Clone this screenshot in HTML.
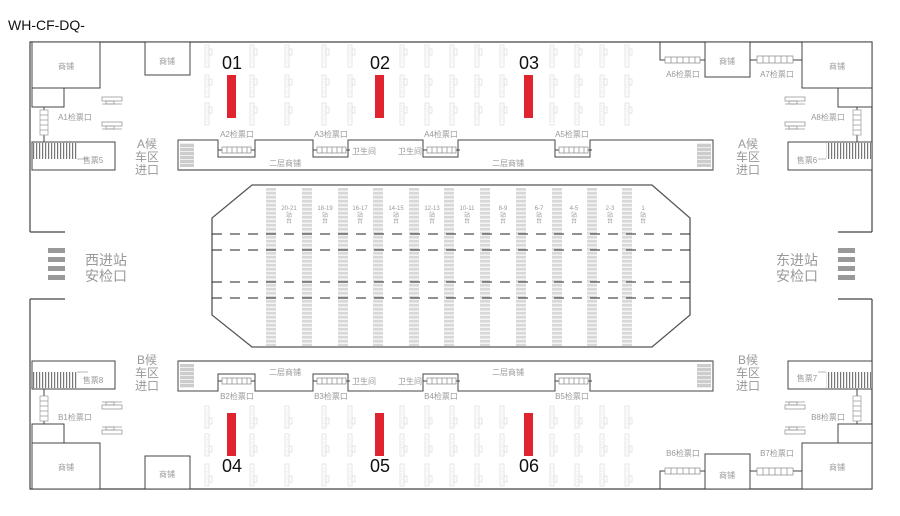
<!DOCTYPE html>
<html><head><meta charset="utf-8"><style>
html,body{margin:0;padding:0;background:#fff;}
svg{display:block;}
text{font-family:"Liberation Sans","Noto Sans CJK SC",sans-serif;fill:#999;}
.s{font-size:8px;}
.m{font-size:12px;}
.n{font-size:18px;}
.n text{fill:#111;}
</style></head><body>
<svg width="900" height="516" viewBox="0 0 900 516" xmlns="http://www.w3.org/2000/svg">
<defs>
<pattern id="esc" width="10" height="4" patternUnits="userSpaceOnUse">
<rect width="10" height="4" fill="#d8d8d8"/><rect y="2.5" width="10" height="1.5" fill="#f4f4f4"/>
</pattern>
<pattern id="vst" width="3" height="10" patternUnits="userSpaceOnUse">
<rect width="3" height="10" fill="#fff"/><rect width="1.2" height="10" fill="#777"/>
</pattern>
<pattern id="hst" width="10" height="4" patternUnits="userSpaceOnUse">
<rect width="10" height="4" fill="#ccc"/><rect y="3" width="10" height="1" fill="#eee"/>
</pattern>
<g id="seat" fill="none" stroke="#d6d6d6" stroke-width="0.6">
<rect x="0" y="0" width="4" height="22"/><rect x="4" y="4" width="3" height="6"/><line x1="2" y1="2" x2="2" y2="20" stroke-dasharray="1 1"/>
</g>
<g id="hgate" fill="none" stroke="#999" stroke-width="0.8">
<rect x="0" y="0" width="20" height="4"/><line x1="0" y1="7" x2="20" y2="7"/><rect x="4" y="4" width="8" height="3"/>
</g>
<g id="gate" fill="none" stroke="#444" stroke-width="1">
<line x1="0" y1="0" x2="4" y2="0"/><line x1="33" y1="0" x2="37" y2="0"/>
<rect x="4" y="-3" width="29" height="6" stroke="#888" stroke-width="0.7"/>
<path d="M9 -3V3M14 -3V3M19 -3V3M24 -3V3M29 -3V3" stroke="#888" stroke-width="0.7"/>
</g>
<g id="half">
<path d="M30 232H65M30 232V42H872V232M872 232H838" fill="none" stroke="#444" stroke-width="1.2"/>
<rect x="32" y="42" width="68" height="46" fill="#fff" stroke="#444"/>
<rect x="32" y="88" width="32" height="19" fill="#fff" stroke="#444"/>
<rect x="145" y="42" width="45" height="33" fill="#fff" stroke="#444"/>
<line x1="44" y1="107" x2="44" y2="142" stroke="#444"/>
<rect x="40" y="110" width="8" height="25" fill="#fff" stroke="#999" stroke-width="0.7"/>
<path d="M40 115H48M40 120H48M40 125H48M40 130H48" stroke="#999" stroke-width="0.7"/>
<rect x="32" y="142" width="83" height="28" fill="#fff" stroke="#444"/>
<rect x="33" y="143" width="44" height="16" fill="url(#vst)"/>
<line x1="77" y1="159" x2="88" y2="159" stroke="#999" stroke-width="0.7"/>
<use href="#hgate" x="102" y="97"/><use href="#hgate" x="102" y="122"/>
<path d="M660 42V60H665M700 60H705" fill="none" stroke="#444"/>
<rect x="665" y="57" width="35" height="6" fill="none" stroke="#888" stroke-width="0.7"/>
<path d="M671 57V63M677 57V63M683 57V63M689 57V63M695 57V63" stroke="#888" stroke-width="0.7"/>
<rect x="705" y="42" width="45" height="35" fill="#fff" stroke="#444"/>
<path d="M750 60H757M793 60H802" stroke="#444"/>
<rect x="757" y="56" width="36" height="7" fill="none" stroke="#888" stroke-width="0.7"/>
<path d="M763 56V63M769 56V63M775 56V63M781 56V63M787 56V63" stroke="#888" stroke-width="0.7"/>
<rect x="802" y="42" width="70" height="46" fill="#fff" stroke="#444"/>
<rect x="838" y="88" width="34" height="19" fill="#fff" stroke="#444"/>
<line x1="857" y1="107" x2="857" y2="142" stroke="#444"/>
<rect x="853" y="110" width="8" height="25" fill="#fff" stroke="#999" stroke-width="0.7"/>
<path d="M853 115H861M853 120H861M853 125H861M853 130H861" stroke="#999" stroke-width="0.7"/>
<rect x="788" y="142" width="84" height="28" fill="#fff" stroke="#444"/>
<rect x="826" y="143" width="45" height="16" fill="url(#vst)"/>
<line x1="818" y1="159" x2="826" y2="159" stroke="#999" stroke-width="0.7"/>
<use href="#hgate" x="785" y="97"/><use href="#hgate" x="785" y="122"/>
<path d="M178 140H218V157H255V140H313V157H348V140H423V157H458V140H555V157H590V140H713V170H178Z" fill="#fff" stroke="#444"/>
<line x1="178" y1="170" x2="713" y2="170" stroke="#777" stroke-width="1.5"/>
<rect x="180" y="143" width="14" height="24" fill="url(#hst)"/>
<rect x="697" y="143" width="14" height="24" fill="url(#hst)"/>
<use href="#gate" x="218" y="150"/><use href="#gate" x="313" y="150"/><use href="#gate" x="423" y="150"/><use href="#gate" x="555" y="150"/>
<g id="srow">
<use href="#seat" x="205" y="45"/><use href="#seat" x="250" y="45"/><use href="#seat" x="285" y="45"/><use href="#seat" x="322" y="45"/><use href="#seat" x="348" y="45"/><use href="#seat" x="400" y="45"/><use href="#seat" x="425" y="45"/><use href="#seat" x="450" y="45"/><use href="#seat" x="475" y="45"/><use href="#seat" x="500" y="45"/><use href="#seat" x="550" y="45"/><use href="#seat" x="575" y="45"/><use href="#seat" x="600" y="45"/><use href="#seat" x="625" y="45"/>
</g>
<use href="#srow" y="30"/><use href="#srow" y="58"/>
<rect x="227" y="75" width="9" height="43" fill="#e0242f"/>
<rect x="375" y="75" width="9" height="43" fill="#e0242f"/>
<rect x="524" y="75" width="9" height="43" fill="#e0242f"/>
</g>
</defs>
<text x="8" y="30" style="font-size:14px;fill:#111">WH-CF-DQ-</text>
<use href="#half"/>
<g transform="matrix(1,0,0,-1,0,531)"><use href="#half"/></g>
<g fill="#999">
<rect x="48" y="248" width="17" height="5"/><rect x="48" y="257" width="17" height="5"/><rect x="48" y="266" width="17" height="5"/><rect x="48" y="275" width="17" height="5"/>
<rect x="838" y="248" width="17" height="5"/><rect x="838" y="257" width="17" height="5"/><rect x="838" y="266" width="17" height="5"/><rect x="838" y="275" width="17" height="5"/>
</g>
<path d="M252 185H652L690 218V315L652 347H252L212 315V218Z" fill="#fff" stroke="#555" stroke-width="1.3"/>
<g fill="url(#esc)">
<rect x="266" y="188" width="10" height="158"/><rect x="302" y="188" width="10" height="158"/><rect x="338" y="188" width="10" height="158"/><rect x="373" y="188" width="10" height="158"/><rect x="409" y="188" width="10" height="158"/><rect x="444" y="188" width="10" height="158"/><rect x="480" y="188" width="10" height="158"/><rect x="516" y="188" width="10" height="158"/><rect x="552" y="188" width="10" height="158"/><rect x="587" y="188" width="10" height="158"/><rect x="622" y="188" width="10" height="158"/>
</g>
<g stroke="#222" stroke-dasharray="10 8" stroke-width="1">
<line x1="212" y1="234" x2="690" y2="234"/><line x1="212" y1="250" x2="690" y2="250"/><line x1="212" y1="282" x2="690" y2="282"/><line x1="212" y1="298" x2="690" y2="298"/>
</g>
<g class="s" text-anchor="middle" style="font-size:6px">
<text x="289" y="210">20-21</text><text x="289" y="217">站</text><text x="289" y="223">台</text>
<text x="325" y="210">18-19</text><text x="325" y="217">站</text><text x="325" y="223">台</text>
<text x="360" y="210">16-17</text><text x="360" y="217">站</text><text x="360" y="223">台</text>
<text x="396" y="210">14-15</text><text x="396" y="217">站</text><text x="396" y="223">台</text>
<text x="432" y="210">12-13</text><text x="432" y="217">站</text><text x="432" y="223">台</text>
<text x="467" y="210">10-11</text><text x="467" y="217">站</text><text x="467" y="223">台</text>
<text x="503" y="210">8-9</text><text x="503" y="217">站</text><text x="503" y="223">台</text>
<text x="539" y="210">6-7</text><text x="539" y="217">站</text><text x="539" y="223">台</text>
<text x="574" y="210">4-5</text><text x="574" y="217">站</text><text x="574" y="223">台</text>
<text x="610" y="210">2-3</text><text x="610" y="217">站</text><text x="610" y="223">台</text>
<text x="643" y="210">1</text><text x="643" y="217">站</text><text x="643" y="223">台</text>
</g>
<g class="s" text-anchor="middle">
<text x="66" y="69">商铺</text><text x="167" y="64">商铺</text><text x="727" y="64">商铺</text><text x="837" y="69">商铺</text>
<text x="66" y="470">商铺</text><text x="167" y="477">商铺</text><text x="727" y="478">商铺</text><text x="837" y="470">商铺</text>
<text x="75" y="120">A1检票口</text><text x="828" y="120">A8检票口</text>
<text x="75" y="420">B1检票口</text><text x="828" y="420">B8检票口</text>
<text x="93" y="163">售票5</text><text x="807" y="163">售票6</text>
<text x="93" y="383">售票8</text><text x="807" y="381">售票7</text>
<text x="683" y="77">A6检票口</text><text x="777" y="77">A7检票口</text>
<text x="683" y="456">B6检票口</text><text x="777" y="456">B7检票口</text>
<text x="237" y="137">A2检票口</text><text x="331" y="137">A3检票口</text><text x="441" y="137">A4检票口</text><text x="572" y="137">A5检票口</text>
<text x="237" y="399">B2检票口</text><text x="331" y="399">B3检票口</text><text x="441" y="399">B4检票口</text><text x="572" y="399">B5检票口</text>
<text x="364" y="154">卫生间</text><text x="410" y="154">卫生间</text>
<text x="364" y="384">卫生间</text><text x="410" y="384">卫生间</text>
<text x="285" y="166">二层商铺</text><text x="508" y="166">二层商铺</text>
<text x="285" y="375">二层商铺</text><text x="508" y="375">二层商铺</text>
</g>
<g class="m" text-anchor="middle">
<text x="147" y="148">A候</text><text x="147" y="161">车区</text><text x="147" y="174">进口</text>
<text x="748" y="148">A候</text><text x="748" y="161">车区</text><text x="748" y="174">进口</text>
<text x="147" y="364">B候</text><text x="147" y="377">车区</text><text x="147" y="390">进口</text>
<text x="748" y="364">B候</text><text x="748" y="377">车区</text><text x="748" y="390">进口</text>
<text x="106" y="265" style="font-size:14px">西进站</text><text x="106" y="281" style="font-size:14px">安检口</text>
<text x="797" y="265" style="font-size:14px">东进站</text><text x="797" y="281" style="font-size:14px">安检口</text>
</g>
<g class="n" text-anchor="middle">
<text x="232" y="69">01</text><text x="380" y="69">02</text><text x="529" y="69">03</text>
<text x="232" y="472">04</text><text x="380" y="472">05</text><text x="529" y="472">06</text>
</g>
</svg>
</body></html>
